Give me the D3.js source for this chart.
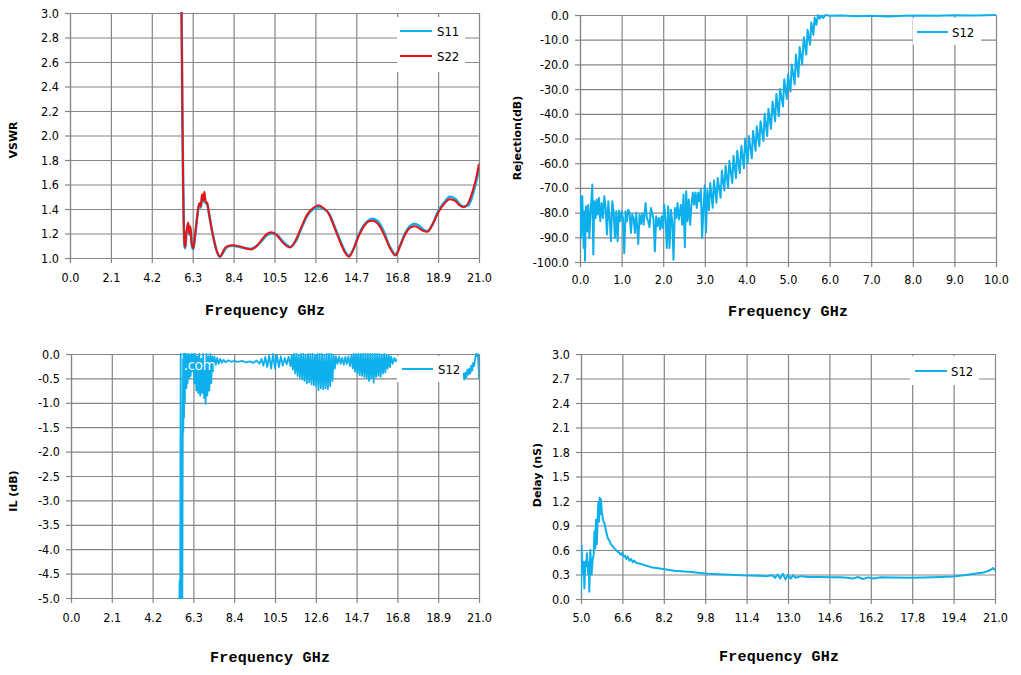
<!DOCTYPE html>
<html>
<head>
<meta charset="utf-8">
<script src="https://cdnjs.cloudflare.com/ajax/libs/d3/7.8.5/d3.min.js"></script>
<style>
  body { margin: 0; background: #fff; }
  svg { display: block; }
</style>
</head>
<body>
<svg></svg>
<script>
// ---- tick labels ----
const freqTicks21 = [0.0, 2.1, 4.2, 6.3, 8.4, 10.5, 12.6, 14.7, 16.8, 18.9, 21.0];
const freqTicks10 = [0.0, 1.0, 2.0, 3.0, 4.0, 5.0, 6.0, 7.0, 8.0, 9.0, 10.0];
const freqTicksDelay = [5.0, 6.6, 8.2, 9.8, 11.4, 13.0, 14.6, 16.2, 17.8, 19.4, 21.0];
const vswrTicks = [1.0, 1.2, 1.4, 1.6, 1.8, 2.0, 2.2, 2.4, 2.6, 2.8, 3.0];
const rejTicks = [0, -10, -20, -30, -40, -50, -60, -70, -80, -90, -100];
const ilTicks = [0, -0.5, -1.0, -1.5, -2.0, -2.5, -3.0, -3.5, -4.0, -4.5, -5.0];
const delayTicks = [0.0, 0.3, 0.6, 0.9, 1.2, 1.5, 1.8, 2.1, 2.4, 2.7, 3.0];

// ---- VSWR (GHz, S11, S22) ----
const vswrFreq = [
  5.72, 5.75, 5.77, 5.79, 5.81, 5.84, 5.88, 5.92, 5.97, 6.02,
  6.07, 6.12, 6.18, 6.25, 6.33, 6.40, 6.48, 6.56, 6.64, 6.72,
  6.78, 6.84, 6.90, 6.96, 7.04, 7.14, 7.26, 7.40, 7.55, 7.70,
  7.85, 8.00, 8.30, 8.70, 9.00, 9.30, 9.60, 9.90, 10.10, 10.35,
  10.60, 10.90, 11.10, 11.30, 11.60, 11.90, 12.20, 12.50, 12.75, 13.00,
  13.30, 13.60, 13.90, 14.10, 14.32, 14.55, 14.80, 15.10, 15.35, 15.55,
  15.80, 16.10, 16.40, 16.72, 16.95, 17.20, 17.45, 17.70, 17.95, 18.15,
  18.35, 18.60, 18.90, 19.20, 19.50, 19.80, 20.00, 20.20, 20.45, 20.70,
  20.85, 21.00
];
const vswrS11 = [
  3.10, 2.60, 2.15, 1.88, 1.58, 1.28, 1.10, 1.08, 1.19, 1.24,
  1.28, 1.19, 1.25, 1.11, 1.07, 1.15, 1.26, 1.37, 1.44, 1.41,
  1.50, 1.46, 1.52, 1.45, 1.44, 1.36, 1.25, 1.14, 1.05, 1.01,
  1.04, 1.08, 1.10, 1.09, 1.08, 1.075, 1.10, 1.15, 1.185, 1.20,
  1.19, 1.14, 1.11, 1.09, 1.14, 1.25, 1.35, 1.40, 1.415, 1.405,
  1.36, 1.25, 1.13, 1.06, 1.02, 1.07, 1.18, 1.27, 1.31, 1.32,
  1.30, 1.22, 1.10, 1.03, 1.10, 1.20, 1.26, 1.28, 1.26, 1.23,
  1.22, 1.27, 1.38, 1.45, 1.50, 1.48, 1.44, 1.42, 1.43, 1.53,
  1.62, 1.73
];
const vswrS22 = [
  3.10, 2.60, 2.19, 1.90, 1.60, 1.30, 1.12, 1.09, 1.20, 1.25,
  1.29, 1.20, 1.26, 1.12, 1.08, 1.16, 1.27, 1.38, 1.45, 1.42,
  1.52, 1.47, 1.54, 1.46, 1.45, 1.36, 1.25, 1.14, 1.05, 1.01,
  1.05, 1.09, 1.105, 1.095, 1.08, 1.07, 1.10, 1.16, 1.195, 1.21,
  1.19, 1.13, 1.10, 1.085, 1.15, 1.26, 1.36, 1.41, 1.43, 1.41,
  1.36, 1.24, 1.12, 1.05, 1.01, 1.07, 1.17, 1.26, 1.30, 1.305,
  1.28, 1.20, 1.09, 1.02, 1.10, 1.19, 1.245, 1.26, 1.24, 1.22,
  1.215, 1.27, 1.37, 1.44, 1.48, 1.465, 1.43, 1.415, 1.45, 1.56,
  1.65, 1.77
];

// ---- Rejection S12 [GHz, dB] ----
const rejS12 = [
  [0.000,-85.0],[0.012,-73.4],[0.024,-90.3],[0.056,-73.4],[0.088,-94.3],[0.104,-79.5],[0.120,-99.5],[0.144,-77.4],
  [0.176,-87.6],[0.200,-76.8],[0.224,-90.3],[0.256,-79.5],[0.296,-68.6],[0.320,-97.0],[0.344,-75.4],[0.376,-82.2],
  [0.400,-74.7],[0.424,-80.8],[0.456,-74.1],[0.488,-83.5],[0.520,-76.1],[0.552,-82.2],[0.584,-73.4],[0.616,-78.1],
  [0.648,-88.9],[0.680,-75.4],[0.712,-82.2],[0.744,-91.6],[0.776,-75.4],[0.808,-79.5],[0.840,-90.3],[0.872,-79.5],
  [0.904,-91.6],[0.936,-79.2],[0.968,-83.5],[1.000,-79.5],[1.032,-82.2],[1.064,-96.4],[1.096,-79.5],[1.128,-83.5],
  [1.160,-78.8],[1.192,-80.1],[1.224,-88.2],[1.256,-80.8],[1.288,-82.2],[1.320,-88.2],[1.352,-80.1],[1.400,-92.7],
  [1.432,-80.8],[1.464,-84.6],[1.496,-80.5],[1.528,-84.9],[1.576,-76.1],[1.608,-82.2],[1.640,-83.5],[1.672,-85.9],
  [1.704,-78.1],[1.736,-80.1],[1.768,-82.8],[1.800,-95.7],[1.832,-81.5],[1.864,-85.5],[1.896,-82.2],[1.928,-86.9],
  [1.960,-81.5],[1.992,-86.2],[2.024,-76.8],[2.056,-82.8],[2.088,-94.3],[2.120,-77.4],[2.152,-94.3],[2.184,-78.8],
  [2.216,-83.5],[2.248,-99.1],[2.280,-78.1],[2.312,-82.2],[2.344,-76.1],[2.376,-82.8],[2.424,-76.8],[2.456,-84.9],
  [2.488,-72.7],[2.520,-94.0],[2.552,-71.4],[2.584,-83.5],[2.616,-74.7],[2.648,-84.9],[2.680,-76.8],[2.712,-71.9],
  [2.744,-76.8],[2.776,-71.9],[2.808,-78.1],[2.840,-72.0],[2.872,-75.4],[2.904,-70.7],[2.936,-90.3],[2.968,-78.1],
  [3.000,-68.9],[3.03,-88],[3.06,-71],[3.10,-79],[3.13,-68],[3.19,-78],[3.22,-67],[3.28,-76],
  [3.31,-66],[3.38,-74],[3.41,-63],[3.47,-71],[3.50,-61],[3.56,-70],[3.59,-59],[3.66,-68],
  [3.69,-57],[3.75,-66],[3.78,-55],[3.84,-64],[3.88,-53],[3.94,-62],[3.97,-50],[4.03,-60],
  [4.06,-49],[4.13,-58],[4.16,-47],[4.22,-55],[4.25,-45],[4.31,-53],[4.34,-43],[4.41,-51],
  [4.44,-40],[4.50,-49],[4.53,-38],[4.59,-46],[4.63,-35],[4.69,-43],[4.72,-32],[4.78,-41],
  [4.81,-30],[4.88,-37],[4.91,-26],[4.97,-34],[5.00,-24],[5.06,-31],[5.09,-20],[5.16,-28],
  [5.19,-16],[5.25,-25],[5.28,-13],[5.34,-20],[5.38,-9],[5.44,-16],[5.47,-6],[5.53,-12],
  [5.56,-3],[5.61,-8],[5.64,-1],[5.68,-4],[5.72,0],[5.76,-1.5],[5.80,-0.3],[5.85,-1.2],
  [5.90,0],[6.0,-0.3],[6.3,-0.2],[6.6,-0.5],[7.0,-0.3],[7.4,-0.6],[7.8,-0.3],[8.2,-0.2],
  [8.6,-0.3],[9.0,-0.1],[9.5,-0.2],[10.0,0]
];

// ---- Insertion loss S12 [GHz, dB] ----
const ilS12 = [
  [5.58,-5.3],[5.585,-4.65],[5.59,-5.3],[5.62,-5.3],[5.63,-2.5],[5.645,0],[5.66,-2.0],[5.68,-5.3],
  [5.73,-5.3],[5.745,-2.9],[5.755,-1.5],[5.77,-0.1],[5.78,-1.6],[5.80,0],[5.82,-1.3],[5.84,0],
  [5.86,-1.0],[5.88,0],[5.90,-0.7],[5.92,0],[5.94,-0.7],[5.97,-0.05],[6.00,-0.6],[6.04,0],
  [6.08,-0.5],[6.12,-0.02],[6.16,-0.45],[6.20,0],[6.25,-0.35],
  [6.30,0],[6.35,-0.6],[6.40,0],[6.45,-0.75],[6.50,-0.05],[6.55,-0.8],[6.60,0],[6.65,-0.85],
  [6.70,-0.1],[6.75,-0.8],[6.80,0],[6.85,-0.9],[6.90,-0.2],[6.93,-1.02],[6.97,0],[7.02,-0.85],
  [7.07,-0.05],[7.12,-0.75],[7.17,0],[7.22,-0.6],[7.27,-0.05],[7.32,-0.35],[7.38,-0.05],[7.45,-0.22],
  [7.52,-0.08],[7.60,-0.2],[7.68,-0.1],[7.76,-0.18],[7.85,-0.12],[7.95,-0.17],[8.1,-0.13],[8.25,-0.16],
  [8.4,-0.14],[8.6,-0.16],[8.8,-0.14],[9.0,-0.17],[9.2,-0.15],[9.4,-0.18],[9.55,-0.13],[9.7,-0.2],
  [9.8,-0.1],[9.9,-0.24],[10.0,-0.06],[10.1,-0.27],[10.2,-0.03],[10.3,-0.3],[10.4,0],[10.5,-0.3],
  [10.6,-0.02],[10.7,-0.27],[10.8,-0.05],[10.9,-0.24],[11.0,-0.08],[11.1,-0.21],[11.2,-0.06],[11.3,-0.25],
  [11.36,-0.02],[11.42,-0.32],[11.48,0],[11.54,-0.4],[11.60,0],[11.66,-0.45],[11.72,-0.02],[11.78,-0.48],
  [11.84,0],[11.90,-0.52],[11.96,0],[12.02,-0.55],[12.08,-0.02],[12.14,-0.6],[12.20,0],[12.26,-0.58],
  [12.32,0],[12.38,-0.62],[12.44,0],[12.50,-0.64],[12.56,-0.02],[12.62,-0.66],[12.68,0],[12.74,-0.74],
  [12.80,0],[12.86,-0.7],[12.92,0],[12.98,-0.72],[13.04,-0.02],[13.10,-0.7],[13.16,0],[13.22,-0.72],
  [13.28,0],[13.34,-0.66],[13.40,0],[13.46,-0.55],[13.52,-0.03],[13.58,-0.3],[13.64,-0.05],[13.72,-0.2],
  [13.80,-0.05],[13.88,-0.2],[13.96,-0.08],[14.04,-0.22],[14.12,-0.06],[14.20,-0.2],[14.28,-0.05],[14.36,-0.25],
  [14.44,-0.02],[14.50,-0.3],[14.56,0],[14.62,-0.36],[14.68,0],[14.74,-0.4],[14.80,0],[14.86,-0.44],
  [14.92,0],[14.98,-0.45],[15.04,0],[15.10,-0.47],[15.16,0],[15.22,-0.5],[15.28,0],[15.34,-0.55],
  [15.40,0],[15.46,-0.5],[15.52,0],[15.58,-0.59],[15.64,0],[15.70,-0.47],[15.76,0],[15.82,-0.45],
  [15.88,0],[15.94,-0.47],[16.00,-0.02],[16.06,-0.4],[16.12,0],[16.18,-0.38],[16.24,-0.02],[16.30,-0.3],
  [16.36,-0.03],[16.42,-0.27],[16.48,-0.05],[16.56,-0.2],[16.64,-0.08],[16.72,-0.15],[16.80,-0.1],[16.9,-0.15],
  [17.3,-0.2],[17.8,-0.25],[18.3,-0.3],[18.8,-0.35],[19.3,-0.4],[19.8,-0.45],[20.1,-0.5],[20.2,-0.4],
  [20.25,-0.52],[20.3,-0.38],[20.35,-0.48],[20.4,-0.32],[20.45,-0.42],[20.5,-0.3],[20.55,-0.4],[20.6,-0.24],
  [20.65,-0.34],[20.7,-0.18],[20.75,-0.25],[20.8,-0.1],[20.85,0],[20.9,-0.05],[20.95,0],[21.0,-0.5]
];

// ---- Group delay S12 [GHz, nS] ----
const delayS12 = [
  [5.00,0.05],[5.026,0.65],[5.045,0.35],[5.065,0.46],[5.09,0.30],[5.11,0.45],[5.13,0.13],[5.17,0.46],
  [5.20,0.40],[5.23,0.56],[5.28,0.30],[5.30,0.45],[5.32,0.09],[5.36,0.60],[5.41,0.30],[5.45,0.48],
  [5.49,0.54],[5.52,0.83],[5.55,0.62],[5.58,0.97],[5.61,0.67],[5.645,1.0],[5.67,1.18],[5.70,0.95],
  [5.72,1.24],[5.75,1.04],[5.77,1.22],[5.80,1.08],[5.85,0.97],[5.90,0.93],[5.97,0.83],[6.03,0.75],
  [6.10,0.71],[6.16,0.67],[6.29,0.62],[6.42,0.58],[6.50,0.56],[6.55,0.54],[6.60,0.57],[6.65,0.52],
  [6.70,0.53],[6.75,0.49],[6.81,0.52],[6.87,0.47],[6.94,0.49],[7.0,0.45],[7.06,0.47],[7.15,0.44],
  [7.32,0.43],[7.5,0.41],[7.71,0.39],[8.10,0.37],[8.61,0.345],[9.26,0.33],[9.90,0.31],[10.55,0.30],
  [11.19,0.29],[11.84,0.285],[12.2,0.28],[12.4,0.29],[12.5,0.26],[12.6,0.30],[12.7,0.25],[12.8,0.31],
  [12.9,0.24],[13.0,0.30],[13.1,0.25],[13.2,0.29],[13.3,0.26],[13.5,0.28],[13.8,0.27],[14.2,0.27],
  [14.6,0.265],[15.0,0.265],[15.3,0.26],[15.5,0.25],[15.7,0.27],[15.9,0.245],[16.1,0.265],[16.3,0.25],
  [16.6,0.265],[17.0,0.262],[17.8,0.26],[18.6,0.265],[19.4,0.275],[19.8,0.29],[20.2,0.31],[20.5,0.32],
  [20.7,0.34],[20.85,0.36],[20.92,0.38],[21.0,0.35]
];

// colours of the traces
const blue = '#0db0ec';
const red = '#ee1111';
const gridColor = '#868686';

const svg = d3.select('svg')
              .attr('width', 1021)
              .attr('height', 675);

const zip = (xs, ys) => xs.map((v, i) => [v, ys[i]]);

// one config per panel
const charts = [
  {
    id: 'vswr', left: 70, right: 479, top: 13, bottom: 258,
    xDomain: [0, 21], yDomain: [1, 3], xTicks: freqTicks21, yTicks: vswrTicks, xPad: 10,
    yTitle: 'VSWR', yTitleX: 13, yTitleY: 140, xTitleX: 265, xTitleY: 315,
    legend: { x: 397, y: 17, w: 68, h: 55, lineX: 400, lineW: 32, textX: 437 },
    series: [
      { name: 'S11', data: zip(vswrFreq, vswrS11), color: blue, width: 2.6, curve: d3.curveMonotoneX, row: 31 },
      { name: 'S22', data: zip(vswrFreq, vswrS22), color: red, width: 2, curve: d3.curveMonotoneX, row: 56 }
    ]
  },
  {
    id: 'rej', left: 580, right: 996, top: 15, bottom: 262,
    xDomain: [0, 10], yDomain: [-100, 0], xTicks: freqTicks10, yTicks: rejTicks, xPad: 8,
    yTitle: 'Rejection(dB)', yTitleX: 517, yTitleY: 138, xTitleX: 788, xTitleY: 316,
    legend: { x: 913, y: 18, w: 68, h: 27, lineX: 917, lineW: 31, textX: 952 },
    series: [
      { name: 'S12', data: rejS12, color: blue, width: 2, curve: d3.curveLinear, row: 32 }
    ]
  },
  {
    id: 'il', left: 71, right: 479, top: 354, bottom: 598,
    xDomain: [0, 21], yDomain: [-5, 0], xTicks: freqTicks21, yTicks: ilTicks, xPad: 10,
    yTitle: 'IL (dB)', yTitleX: 13, yTitleY: 491, xTitleX: 270, xTitleY: 662,
    legend: { x: 397, y: 356, w: 66, h: 26, lineX: 402, lineW: 31, textX: 438 },
    series: [
      { name: 'S12', data: ilS12, color: blue, width: 1.8, curve: d3.curveLinear, row: 369 }
    ],
    watermark: { text: '.com', x: 184, y: 370 }
  },
  {
    id: 'delay', left: 581, right: 995, top: 354, bottom: 599,
    xDomain: [5, 21], yDomain: [0, 3], xTicks: freqTicksDelay, yTicks: delayTicks, xPad: 9,
    yTitle: 'Delay (nS)', yTitleX: 537, yTitleY: 475, xTitleX: 779, xTitleY: 661,
    legend: { x: 910, y: 356, w: 69, h: 29, lineX: 915, lineW: 32, textX: 951 },
    series: [
      { name: 'S12', data: delayS12, color: blue, width: 2, curve: d3.curveLinear, row: 371 }
    ]
  }
];

charts.forEach(drawChart);

function drawChart(c) {
  const w = c.right - c.left;
  const h = c.bottom - c.top;

  const xScale = d3.scaleLinear().domain(c.xDomain).range([c.left, c.right]);
  const yScale = d3.scaleLinear().domain(c.yDomain).range([c.bottom, c.top]);

  const g = svg.append('g').attr('id', c.id);

  // grid lines (vertical then horizontal)
  g.append('g')
   .attr('transform', 'translate(0,' + c.bottom + ')')
   .call(d3.axisBottom(xScale).tickValues(c.xTicks).tickSize(-h).tickSizeOuter(0).tickFormat(''))
   .call(s => s.select('.domain').remove())
   .call(s => s.selectAll('line').attr('stroke', gridColor).attr('stroke-width', 1.2));

  g.append('g')
   .attr('transform', 'translate(' + c.left + ',0)')
   .call(d3.axisLeft(yScale).tickValues(c.yTicks).tickSize(-w).tickSizeOuter(0).tickFormat(''))
   .call(s => s.select('.domain').remove())
   .call(s => s.selectAll('line').attr('stroke', gridColor).attr('stroke-width', 1.2));

  // axes with labels and short outside ticks
  const xAxis = g.append('g')
   .attr('transform', 'translate(0,' + c.bottom + ')')
   .call(d3.axisBottom(xScale).tickValues(c.xTicks).tickSize(5).tickSizeOuter(0)
          .tickPadding(c.xPad).tickFormat(d => d.toFixed(1)));

  const yAxis = g.append('g')
   .attr('transform', 'translate(' + c.left + ',0)')
   .call(d3.axisLeft(yScale).tickValues(c.yTicks).tickSize(5).tickSizeOuter(0)
          .tickPadding(6).tickFormat(d => d.toFixed(1)));

  [xAxis, yAxis].forEach(a => {
    a.select('.domain').attr('stroke', gridColor).attr('stroke-width', 1.2);
    a.selectAll('line').attr('stroke', gridColor).attr('stroke-width', 1.2);
    a.selectAll('text')
     .attr('fill', '#000')
     .style('font-family', '"DejaVu Sans Condensed", "DejaVu Sans", sans-serif')
     .style('font-size', '12.5px');
  });

  // clip traces to the plot area
  svg.append('clipPath')
     .attr('id', 'clip-' + c.id)
     .append('rect')
     .attr('x', c.left)
     .attr('y', c.top - 1)
     .attr('width', w)
     .attr('height', h + 2);

  const line = d3.line()
                 .x(d => xScale(d[0]))
                 .y(d => yScale(d[1]));

  c.series.forEach(s => {
    g.append('path')
     .datum(s.data)
     .attr('clip-path', 'url(#clip-' + c.id + ')')
     .attr('fill', 'none')
     .attr('stroke', s.color)
     .attr('stroke-width', s.width)
     .attr('stroke-linejoin', 'round')
     .attr('d', line.curve(s.curve));
  });

  if (c.watermark) {
    g.append('text')
     .attr('x', c.watermark.x)
     .attr('y', c.watermark.y)
     .attr('fill', '#fff')
     .style('font-family', '"Open Sans", "DejaVu Sans", sans-serif')
     .style('font-size', '14px')
     .text(c.watermark.text);
  }

  // legend box on top of the grid and traces
  const lg = c.legend;
  g.append('rect')
   .attr('x', lg.x)
   .attr('y', lg.y)
   .attr('width', lg.w)
   .attr('height', lg.h)
   .attr('fill', '#fff');

  c.series.forEach(s => {
    g.append('line')
     .attr('x1', lg.lineX)
     .attr('x2', lg.lineX + lg.lineW)
     .attr('y1', s.row)
     .attr('y2', s.row)
     .attr('stroke', s.color)
     .attr('stroke-width', 2);
    g.append('text')
     .attr('x', lg.textX)
     .attr('y', s.row)
     .attr('dy', '0.36em')
     .style('font-family', '"DejaVu Sans Condensed", "DejaVu Sans", sans-serif')
     .style('font-size', '13px')
     .text(s.name);
  });

  // y axis title
  g.append('text')
   .attr('transform', 'translate(' + c.yTitleX + ',' + c.yTitleY + ') rotate(-90)')
   .attr('text-anchor', 'middle')
   .attr('dy', '0.36em')
   .style('font-family', '"DejaVu Sans", sans-serif')
   .style('font-weight', 'bold')
   .style('font-size', '11px')
   .text(c.yTitle);

  // x axis title
  g.append('text')
   .attr('x', c.xTitleX)
   .attr('y', c.xTitleY)
   .attr('text-anchor', 'middle')
   .attr('textLength', 120)
   .attr('lengthAdjust', 'spacing')
   .style('font-family', '"Liberation Mono", monospace')
   .style('font-weight', 'bold')
   .style('font-size', '15px')
   .text('Frequency GHz');
}
</script>
</body>
</html>
